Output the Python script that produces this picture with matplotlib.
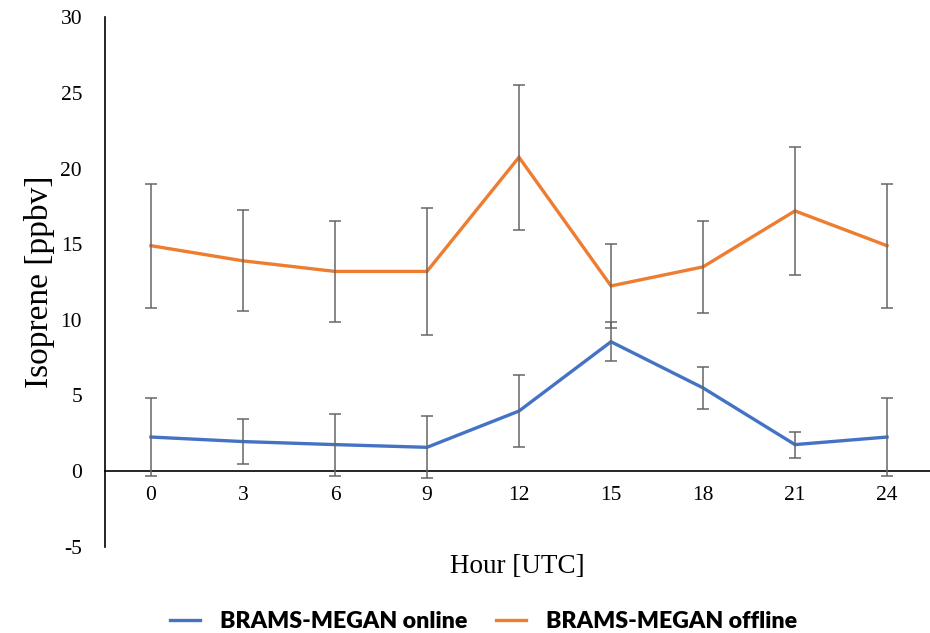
import matplotlib
matplotlib.use("Agg")
import matplotlib.pyplot as plt
import numpy as np

# Hourly isoprene mixing ratios (ppbv) with standard deviation
hours = [0, 3, 6, 9, 12, 15, 18, 21, 24]
online_mean = [2.25, 1.95, 1.75, 1.57, 3.97, 8.55, 5.5, 1.75, 2.25]
online_std = [2.55, 1.47, 2.05, 2.06, 2.38, 1.3, 1.4, 0.86, 2.55]
offline_mean = [14.9, 13.9, 13.2, 13.2, 20.75, 12.24, 13.5, 17.2, 14.9]
offline_std = [4.1, 3.33, 3.35, 4.22, 4.8, 2.78, 3.05, 4.25, 4.1]

series_names = ["BRAMS-MEGAN online", "BRAMS-MEGAN offline"]
series_colors = ["#4472C4", "#ED7D31"]
err_color = "#666666"

serif = ["Liberation Serif", "DejaVu Serif"]
plt.rcParams["font.family"] = serif

fig = plt.figure(figsize=(9.30, 6.33), dpi=100)
ax = fig.add_axes([105 / 930, 1 - 546.7 / 633, 828 / 930, 529.4 / 633])

# Axis lines: category axis crosses the value axis at zero
for s in ["top", "right"]:
    ax.spines[s].set_visible(False)
ax.spines["bottom"].set_position(("data", 0))
ax.spines["bottom"].set_linewidth(1.2)
ax.spines["left"].set_linewidth(1.2)

handles = []
for mean, std, name, color in zip([online_mean, offline_mean],
                                  [online_std, offline_std],
                                  series_names, series_colors):
    line, = ax.plot(hours, mean, color=color, lw=2.4, label=name,
                    solid_joinstyle="miter", zorder=3)
    ax.errorbar(hours, mean, yerr=std, fmt="none", ecolor=err_color,
                elinewidth=1.1, capsize=4.5, capthick=1.1, zorder=4)
    handles.append(line)

ax.set_xlim(-1.5, 25.5)
ax.set_ylim(-5, 30)
ax.set_xticks(hours)
ax.set_xticklabels([str(h) for h in hours], fontfamily=serif, fontsize=15.5)
yt = list(range(-5, 31, 5))
ax.set_yticks(yt)
ax.set_yticklabels([str(v) for v in yt], fontfamily=serif, fontsize=15.5)

ax.tick_params(axis="x", length=0, pad=11)
ax.tick_params(axis="y", length=0, pad=16.5)

ax.set_ylabel("Isoprene [ppbv]", fontsize=24)
ax.yaxis.set_label_coords(-0.0797, 0.5)
ax.yaxis.label.set_va("center")

ax.set_xlabel("Hour [UTC]", fontsize=19.5)
ax.xaxis.set_label_coords(0.498, -0.038)
ax.xaxis.label.set_va("center")

fig.legend(handles=handles, loc="center", bbox_to_anchor=(0.52, 1 - 622 / 633),
           ncol=2, frameon=False,
           prop={"family": ["Lato", "DejaVu Sans"], "weight": "heavy", "size": 16.7},
           handlelength=1.3, handletextpad=0.87, columnspacing=1.2)

fig.savefig("out.png", dpi=100)
